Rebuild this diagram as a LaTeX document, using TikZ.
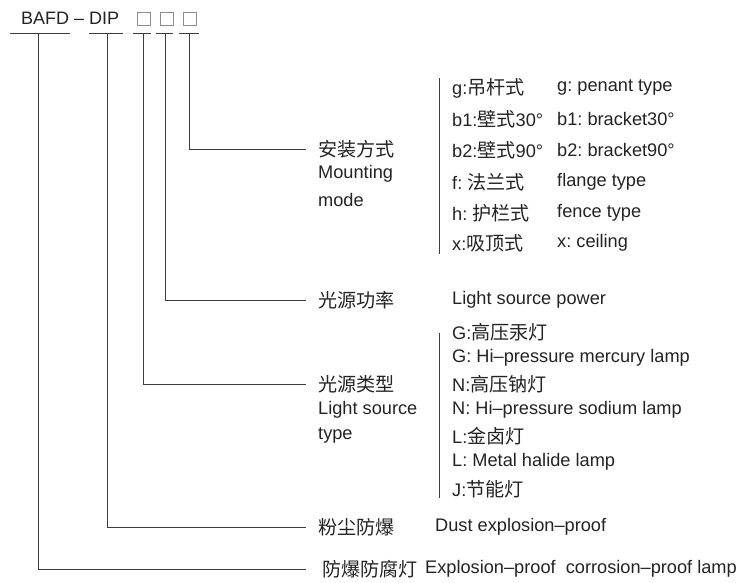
\documentclass[tikz,border=0pt]{standalone}
\usepackage{fontspec}
\setmainfont{Liberation Sans}
\newfontfamily\cjk[Scale=1.05]{Noto Sans CJK SC}
\usetikzlibrary{positioning}
\definecolor{ink}{RGB}{35,35,35}
\definecolor{wire}{RGB}{60,60,60}
\frenchspacing

\begin{document}
\begin{tikzpicture}[x=1pt, y=-1pt, font=\fontsize{18.2}{20}\selectfont, text=ink,
  every node/.style={inner sep=0pt, anchor=west},
  wirel/.style={draw=wire, line width=0.9pt},
  slot/.style={draw=black!45, line width=0.8pt, minimum size=13pt, anchor=center},
  head/.style={font=\fontsize{18}{20}\selectfont}]
\useasboundingbox (0,0) rectangle (741,583);
% code line
\node[head] (code) at (21,18) {BAFD -- DIP};
\node[slot] (s1) at (143.5,19) {};
\node[slot] (s2) at (166.5,19) {};
\node[slot] (s3) at (190,19) {};
\draw[wirel] (10,33) -- (70,33);
\draw[wirel] (89,33) -- (123,33);
\draw[wirel] (133,33) -- (151,33);
\draw[wirel] (156,33) -- (173,33);
\draw[wirel] (179,33) -- (199,33);
\coordinate (ta) at (38,33);
\coordinate (tb) at (107,33);
\coordinate (tc) at (143,33);
\coordinate (td) at (165,33);
\coordinate (te) at (189,33);
% labels
\node (mount) at (318,149) {\cjk 安装方式};
\node (mounten) at (318,174) {Mounting};
\node (mountmd) at (318,200) {mode};
\node (power) at (318,300) {\cjk 光源功率};
\node (powen) at (452,300) {Light source power};
\node (kind) at (318,384) {\cjk 光源类型};
\node (kinden) at (318,410) {Light source};
\node (kindty) at (318,436) {type};
\node (dust) at (318,527) {\cjk 粉尘防爆};
\node (dusten) at (435,527) {Dust explosion--proof};
\node (lamp) at (322,569) {\cjk 防爆防腐灯};
\node (lampen) at (425,569) {Explosion--proof\ \ corrosion--proof lamp};
% mounting options
\node (g) at (452,88) {g:{\cjk 吊杆式}};
\node (b1) at (452,119) {b1:{\cjk 壁式}30°};
\node (b2) at (452,150) {b2:{\cjk 壁式}90°};
\node (f) at (452,182) {f: {\cjk 法兰式}};
\node (h) at (452,213) {h: {\cjk 护栏式}};
\node (x) at (452,243) {x:{\cjk 吸顶式}};
\node (gen) at (557,88) {g: penant type};
\node (b1en) at (557,119) {b1: bracket30°};
\node (b2en) at (557,150) {b2: bracket90°};
\node (fen) at (557,182) {flange type};
\node (hen) at (557,213) {fence type};
\node (xen) at (557,243) {x: ceiling};
\draw[wirel] (439,78) -- (439,254);
% lamp types
\node (G) at (452,332) {G:{\cjk 高压汞灯}};
\node (Gen) at (452,358) {G: Hi--pressure mercury lamp};
\node (N) at (452,384) {N:{\cjk 高压钠灯}};
\node (Nen) at (452,410) {N: Hi--pressure sodium lamp};
\node (L) at (452,436) {L:{\cjk 金卤灯}};
\node (Len) at (452,462) {L: Metal halide lamp};
\node (J) at (452,489) {J:{\cjk 节能灯}};
\draw[wirel] (439,333) -- (439,498);
% connectors
\draw[wirel] (te) |- ([xshift=-12pt]mount.west);
\draw[wirel] (td) |- ([xshift=-12pt]power.west);
\draw[wirel] (tc) |- ([xshift=-12pt]kind.west);
\draw[wirel] (tb) |- ([xshift=-12pt]dust.west);
\draw[wirel] (ta) |- ([xshift=-16pt]lamp.west);
\end{tikzpicture}
\end{document}
